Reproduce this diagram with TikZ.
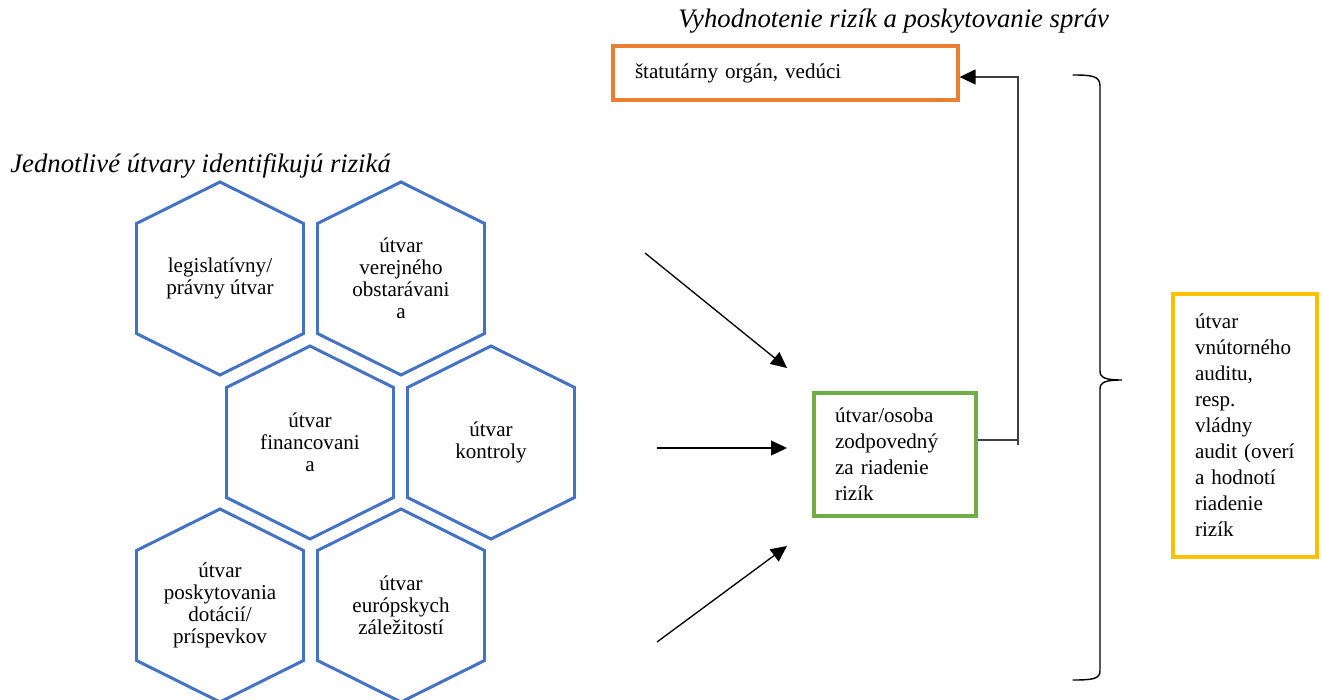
\documentclass[tikz,border=0pt]{standalone}
\usepackage{fontspec}
\setmainfont{Liberation Serif}
\usetikzlibrary{arrows.meta,calc}
\definecolor{hexblue}{HTML}{4472C4}
\definecolor{orgorange}{HTML}{ED7D31}
\definecolor{grn}{HTML}{70AD47}
\definecolor{ylw}{HTML}{FFC000}
\definecolor{fbgray}{HTML}{404040}
\begin{document}
\begin{tikzpicture}[x=0.02cm,y=-0.02cm,
  hexline/.style={draw=hexblue, line width=1.7pt, line join=miter},
  hextext/.style={align=center, inner sep=0pt, font=\fontsize{12}{12.5}\selectfont},
  boxbase/.style={draw, line width=1.9pt, align=left, inner ysep=0pt, font=\fontsize{12}{14.8}\selectfont},
  titletext/.style={inner sep=0pt, font=\fontsize{15.2}{18}\selectfont\itshape},
  arr/.style={line width=0.75pt, -{Triangle[length=0.32cm,width=0.3cm,color=black]}},
  fbline/.style={draw=fbgray, line width=0.8pt},
  bracestyle/.style={line width=0.8pt, line cap=round}
]
\useasboundingbox (0,0) rectangle (1323,700);
\fill[white] (0,0) rectangle (1323,700);

% titles
\node[titletext, anchor=base west] (t1) at (10,172) {Jednotlivé útvary identifikujú riziká};
\node[titletext, anchor=base west] (t2) at (678,27) {Vyhodnotenie rizík a poskytovanie správ};

% hexagon texts
\node[hextext] (h1) at (220,278.5) {legislatívny/\\právny útvar};
\node[hextext] (h2) at (401,278.5) {útvar\\verejného\\obstarávani\\a};
\node[hextext] (h3) at (310,442.5) {útvar\\financovani\\a};
\node[hextext] (h4) at (491,442.5) {útvar\\kontroly};
\node[hextext] (h5) at (220,605.5) {útvar\\poskytovania\\dotácií/\\príspevkov};
\node[hextext] (h6) at (401,605.5) {útvar\\európskych\\záležitostí};

% hexagon outlines
\foreach \n in {h1,h2,h3,h4,h5,h6}{
  \draw[hexline, shift={(\n.center)}] (0,-96.5) -- (83.5,-55) -- (83.5,55) -- (0,96.5) -- (-83.5,55) -- (-83.5,-55) -- cycle;
}

% boxes
\node[boxbase, draw=orgorange, minimum width=6.9cm, minimum height=1.08cm,
      inner xsep=0.44cm, text width=6.02cm] (org) at (785.5,73) {štatutárny orgán, vedúci};
\node[boxbase, draw=grn, minimum width=3.24cm, minimum height=2.46cm,
      inner xsep=0.42cm, text width=2.4cm] (g) at (895,454.5) {útvar/osoba\\zodpovedný\\za riadenie\\rizík};
\node[boxbase, draw=ylw, minimum width=2.88cm, minimum height=5.26cm,
      inner xsep=0.44cm, text width=2.0cm] (yb) at (1245,425.5) {útvar\\vnútorného\\auditu,\\resp.\\vládny\\audit (overí\\a hodnotí\\riadenie\\rizík};

% input arrows
\coordinate (a1s) at (645,253);
\coordinate (a1e) at (787,368);
\coordinate (a2s) at (657,448);
\coordinate (a2e) at (787,448);
\coordinate (a3s) at (657,642);
\coordinate (a3e) at (787,546);
\draw[arr] (a1s) -- (a1e);
\draw[arr] (a2s) -- (a2e);
\draw[arr] (a3s) -- (a3e);

% feedback connector
\coordinate (fb0) at (1018,445);
\coordinate (fb1) at (1018,440);
\coordinate (fb2) at (1018,77);
\draw[fbline] (fb1 -| g.east) -- (fb1);
\draw[fbline, arr] (fb0) -- (fb2) -- (fb2 -| org.east);

% brace
\draw[bracestyle] (1073,75) .. controls (1092,75) and (1100,76) .. (1100,86)
  -- (1100,371) .. controls (1100,378) and (1106,380) .. (1122,380)
  .. controls (1106,380) and (1100,382) .. (1100,389)
  -- (1100,671) .. controls (1100,679) and (1092,680) .. (1073,680);
\end{tikzpicture}
\end{document}
